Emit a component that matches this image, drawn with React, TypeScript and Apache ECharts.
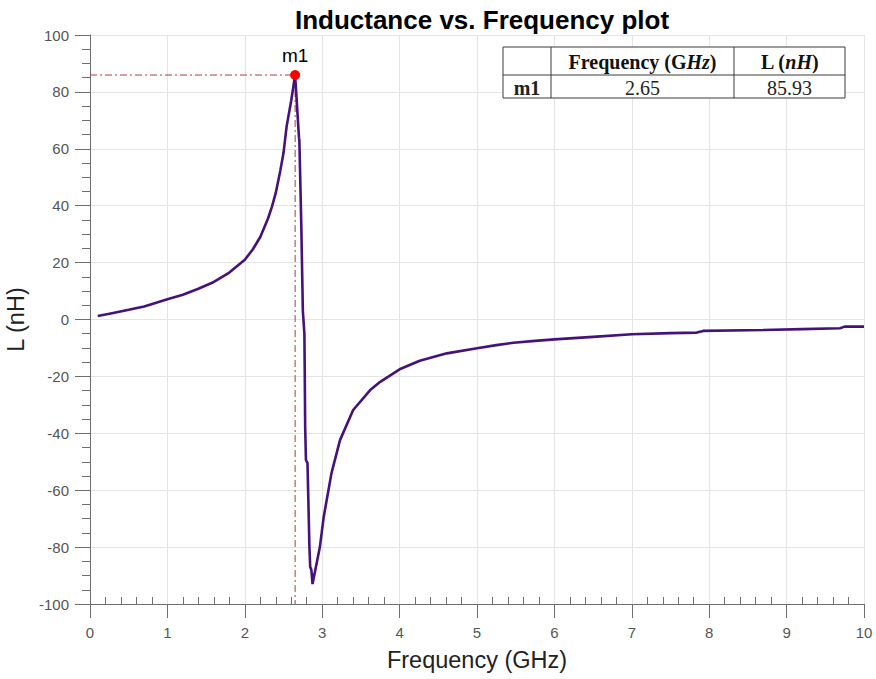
import React, { useEffect, useRef } from "react";
import * as echarts from "echarts";

const freqGHz = [0.1, 0.3, 0.5, 0.7, 1.0, 1.2, 1.4, 1.6, 1.8, 2.0, 2.1, 2.2, 2.3, 2.35, 2.4, 2.46, 2.5, 2.54, 2.6, 2.65, 2.7, 2.705, 2.73, 2.75, 2.77, 2.775, 2.78, 2.79, 2.81, 2.835, 2.845, 2.86, 2.875, 2.97, 3.02, 3.12, 3.23, 3.4, 3.62, 3.75, 4.0, 4.26, 4.61, 5.0, 5.25, 5.47, 5.75, 6.0, 6.5, 7.0, 7.5, 7.84, 7.92, 8.7, 9.2, 9.69, 9.75, 10.0];
const inductanceNH = [1.2, 2.3, 3.4, 4.6, 7.1, 8.7, 10.8, 13.2, 16.5, 21.0, 24.5, 29.0, 35.5, 39.6, 44.5, 52.5, 58.5, 67.8, 77.0, 85.93, 64.0, 63.0, 33.0, 3.0, -5.0, -20.0, -37.7, -49.4, -50.5, -80.0, -87.0, -88.0, -93.0, -80.0, -69.3, -54.0, -42.4, -31.8, -24.8, -21.9, -17.5, -14.5, -11.9, -10.1, -9.0, -8.2, -7.5, -7.0, -6.1, -5.2, -4.8, -4.6, -4.0, -3.7, -3.4, -3.1, -2.5, -2.5];

const markerName = "m1";
const markerFreq = 2.65;
const markerL = 85.93;

const tableHeaders = ["", "Frequency (GHz)", "L (nH)"];
const tableRow = ["m1", "2.65", "85.93"];

export default function App() {
  const ref = useRef<HTMLDivElement>(null);

  useEffect(() => {
    if (!ref.current) return;
    const chart = echarts.init(ref.current, undefined, { renderer: "svg" });
    const curve = freqGHz.map((f, i) => [f, inductanceNH[i]]);

    const colX = [503, 551, 734, 845];
    const rowY = [47, 75, 98];
    const borderColor = "#3a3a3a";
    const serif = "'Liberation Serif', 'Times New Roman', serif";
    const sans = "'Liberation Sans', Arial, sans-serif";

    const tableEls: any[] = [];
    tableEls.push({
      type: "rect",
      shape: { x: colX[0], y: rowY[0], width: colX[3] - colX[0], height: rowY[2] - rowY[0] },
      style: { fill: "#fff", stroke: borderColor, lineWidth: 1 },
      z: 100,
    });
    [colX[1], colX[2]].forEach((x) => {
      tableEls.push({
        type: "line",
        shape: { x1: x, y1: rowY[0], x2: x, y2: rowY[2] },
        style: { stroke: borderColor, lineWidth: 1 },
        z: 101,
      });
    });
    tableEls.push({
      type: "line",
      shape: { x1: colX[0], y1: rowY[1], x2: colX[3], y2: rowY[1] },
      style: { stroke: borderColor, lineWidth: 1 },
      z: 101,
    });
    const richStyles = {
      b: { fontFamily: serif, fontWeight: "bold", fontSize: 20, fill: "#111" },
      bi: { fontFamily: serif, fontWeight: "bold", fontStyle: "italic", fontSize: 20, fill: "#111" },
    };
    const headerTexts = ["", "{b|Frequency (G}{bi|Hz}{b|)}", "{b|L (}{bi|nH}{b|)}"];
    headerTexts.forEach((t, i) => {
      if (!tableHeaders[i]) return;
      tableEls.push({
        type: "text",
        x: (colX[i] + colX[i + 1]) / 2,
        y: (rowY[0] + rowY[1]) / 2 + 1,
        z: 102,
        style: { text: t, rich: richStyles, align: "center", verticalAlign: "middle" },
      });
    });
    tableRow.forEach((t, i) => {
      tableEls.push({
        type: "text",
        x: (colX[i] + colX[i + 1]) / 2,
        y: (rowY[1] + rowY[2]) / 2 + 1,
        z: 102,
        style: {
          text: t,
          fontFamily: serif,
          fontWeight: i === 0 ? "bold" : "normal",
          fontSize: 20,
          fill: "#222",
          align: "center",
          verticalAlign: "middle",
        },
      });
    });

    const dashColor = "#a83c3c";

    chart.setOption({
      animation: false,
      backgroundColor: "#fff",
      title: {
        text: "Inductance vs. Frequency plot",
        left: 477,
        textAlign: "center",
        top: 2,
        textStyle: {
          fontFamily: sans,
          fontWeight: "bold",
          fontSize: 26,
          color: "#000",
        },
      },
      grid: { left: 90, right: 12, top: 35, bottom: 75, containLabel: false, outerBoundsMode: "none" },
      xAxis: {
        type: "value",
        min: 0,
        max: 10,
        interval: 1,
        name: "Frequency (GHz)",
        nameLocation: "middle",
        nameGap: 44,
        nameTextStyle: { fontFamily: sans, fontSize: 23.5, color: "#222" },
        axisLine: { show: true, onZero: false, lineStyle: { color: "#6e6e6e", width: 1 } },
        axisTick: { show: true, length: 14, inside: false, lineStyle: { color: "#6e6e6e" } },
        minorTick: { show: true, splitNumber: 5, length: -7, lineStyle: { color: "#6e6e6e" } },
        axisLabel: { margin: 21, fontSize: 15, color: "#555", fontFamily: sans },
        splitLine: { show: true, lineStyle: { color: "#e4e4e4", width: 1 } },
      },
      yAxis: {
        type: "value",
        min: -100,
        max: 100,
        interval: 20,
        name: "L (nH)",
        nameLocation: "middle",
        nameGap: 58,
        nameTextStyle: { fontFamily: sans, fontSize: 23.5, color: "#222" },
        axisLine: { show: true, onZero: false, lineStyle: { color: "#6e6e6e", width: 1 } },
        axisTick: { show: true, length: 15, inside: false, lineStyle: { color: "#6e6e6e" } },
        minorTick: { show: true, splitNumber: 4, length: 8, lineStyle: { color: "#6e6e6e" } },
        axisLabel: { margin: 21, fontSize: 15, color: "#555", fontFamily: sans },
        splitLine: { show: true, lineStyle: { color: "#e4e4e4", width: 1 } },
      },
      series: [
        {
          type: "line",
          data: [[0, markerL], [markerFreq, markerL]],
          symbol: "none",
          lineStyle: { color: dashColor, width: 1, type: [7, 3, 2, 3] },
          z: 3,
        },
        {
          type: "line",
          data: [[markerFreq, markerL], [markerFreq, -100]],
          symbol: "none",
          lineStyle: { color: dashColor, width: 1, type: [7, 3, 2, 3] },
          z: 3,
        },
        {
          type: "line",
          data: curve,
          symbol: "none",
          lineStyle: { color: "#44127a", width: 2.6 },
          z: 4,
        },
        {
          type: "scatter",
          data: [[markerFreq, markerL]],
          symbol: "circle",
          symbolSize: 10,
          itemStyle: { color: "#ff0000", opacity: 1 },
          label: {
            show: true,
            position: "top",
            distance: 5,
            formatter: markerName,
            fontFamily: sans,
            fontSize: 19,
            color: "#000",
          },
          z: 5,
        },
      ],
      graphic: tableEls,
    });

    return () => chart.dispose();
  }, []);

  return (
    <div
      ref={ref}
      style={{ position: "fixed", left: 0, top: 0, width: 876, height: 679 }}
    />
  );
}
